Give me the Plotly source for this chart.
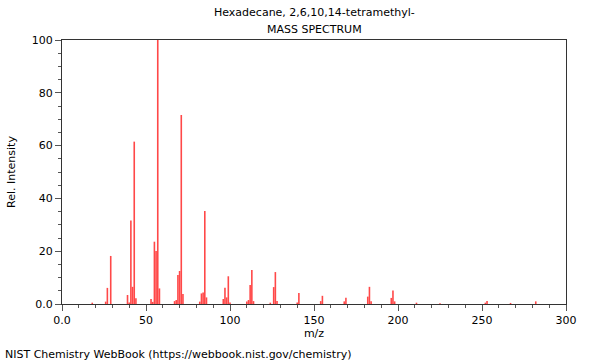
import plotly.graph_objects as go

title_line1 = "Hexadecane, 2,6,10,14-tetramethyl-"
title_line2 = "MASS SPECTRUM"
credit = "NIST Chemistry WebBook (https://webbook.nist.gov/chemistry)"

mz = [18, 26, 27, 29, 39, 40, 41, 42, 43, 44, 53, 54, 55, 56, 57, 58,
      67, 68, 69, 70, 71, 72, 82, 83, 84, 85, 86, 96, 97, 98, 99, 100,
      110, 111, 112, 113, 114, 124, 126, 127, 128, 140, 141, 154, 155,
      168, 169, 182, 183, 184, 196, 197, 198, 211, 225, 252, 253, 267, 282]
intensity = [0.5, 0.9, 6.1, 18.2, 3.4, 0.6, 31.6, 6.5, 61.5, 2.2, 1.9, 0.8, 23.6, 20.1, 100.0, 5.9,
             1.1, 1.5, 11.0, 12.5, 71.6, 3.8, 0.9, 4.0, 4.4, 35.2, 2.5, 1.9, 6.2, 2.5, 10.5, 0.6,
             0.9, 1.5, 7.2, 12.9, 1.1, 0.5, 6.4, 12.1, 1.1, 0.6, 4.2, 1.1, 3.1,
             1.0, 2.4, 2.8, 6.5, 1.0, 2.3, 5.1, 1.0, 0.5, 0.3, 0.5, 1.1, 0.4, 1.0]

x_ticks = [0, 50, 100, 150, 200, 250, 300]
x_tick_labels = ["0.0", "50", "100", "150", "200", "250", "300"]
y_ticks = [0, 20, 40, 60, 80, 100]
y_tick_labels = ["0.0", "20", "40", "60", "80", "100"]

FONT = "DejaVu Sans"

# stick spectrum: one vertical segment per peak, built from the data lists
xs, ys = [], []
for m, v in zip(mz, intensity):
    xs += [m, m, None]
    ys += [0, v, None]

fig = go.Figure()
fig.add_trace(go.Scatter(
    x=xs, y=ys, mode="lines",
    line=dict(color="rgba(255,40,40,0.85)", width=1.6),
    hoverinfo="skip",
))

axis_common = dict(
    showgrid=False, zeroline=False, showline=True, mirror=True,
    linecolor="#333333", linewidth=1, ticks="outside", ticklen=6,
    tickcolor="#555555", tickfont=dict(family=FONT, size=11, color="#000000"),
)

fig.update_xaxes(
    range=[0, 300], tickmode="array", tickvals=x_ticks, ticktext=x_tick_labels,
    title=dict(text="m/z", font=dict(family=FONT, size=11, color="#000000"), standoff=3),
    minor=dict(dtick=10, ticks="outside", ticklen=3, tickcolor="#555555"),
    **axis_common,
)
fig.update_yaxes(
    range=[0, 100], tickmode="array", tickvals=y_ticks, ticktext=y_tick_labels,
    title=dict(text="Rel. Intensity", font=dict(family=FONT, size=11, color="#000000"), standoff=13),
    minor=dict(dtick=5, ticks="outside", ticklen=3, tickcolor="#555555"),
    **axis_common,
)

fig.update_layout(
    width=600, height=360,
    margin=dict(l=62, r=34, t=40, b=56),
    plot_bgcolor="white", paper_bgcolor="white",
    showlegend=False,
    font=dict(family=FONT, size=11, color="#000000"),
    annotations=[
        dict(text=title_line1, x=0.5, y=1, xref="paper", yref="paper",
             xanchor="center", yanchor="bottom", yshift=19, showarrow=False,
             font=dict(family=FONT, size=11, color="#000000")),
        dict(text=title_line2, x=0.5, y=1, xref="paper", yref="paper",
             xanchor="center", yanchor="bottom", yshift=2, showarrow=False,
             font=dict(family=FONT, size=11, color="#000000")),
        dict(text=credit, x=0, y=0, xref="paper", yref="paper",
             xanchor="left", yanchor="top", xshift=-59, yshift=-42,
             showarrow=False, font=dict(family=FONT, size=11, color="#000000")),
    ],
)

fig.write_html("out.html", config={"displayModeBar": False},
               post_script="document.body.style.margin='0';")
